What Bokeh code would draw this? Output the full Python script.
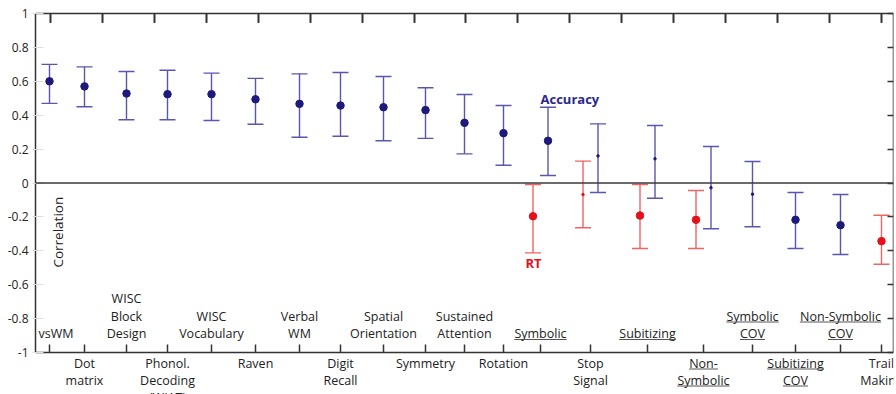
import numpy as np
from bokeh.plotting import figure
from bokeh.models import Range1d, LinearAxis, FixedTicker, Span, Label
from bokeh.embed import file_html
from bokeh.resources import INLINE
from bokeh.core.properties import value

# ---------------- data ----------------
categories = ["vsWM", "Dot\nmatrix", "WISC\nBlock\nDesign", "Phonol.\nDecoding\n(WIAT)",
              "WISC\nVocabulary", "Raven", "Verbal\nWM", "Digit\nRecall",
              "Spatial\nOrientation", "Symmetry", "Sustained\nAttention", "Rotation",
              "Symbolic", "Stop\nSignal", "Subitizing", "Non-\nSymbolic",
              "Symbolic\nCOV", "Subitizing\nCOV", "Non-Symbolic\nCOV", "Trail\nMaking"]
# category position along the x axis
x_pos = [14, 49, 91, 132, 176, 220, 264, 305, 348, 390,
         429, 468, 505, 555, 612, 668, 717, 760, 805, 846]
# numerical tasks (underlined labels)
numeric_task = [False] * 12 + [True, False, True, True, True, True, True, False]

nan = float("nan")
acc = [0.60, 0.57, 0.528, 0.524, 0.524, 0.494, 0.467, 0.457, 0.447, 0.43,
       0.355, 0.294, 0.249, 0.16, 0.143, -0.028, -0.066, -0.217, -0.249, nan]
acc_lo = [0.47, 0.45, 0.373, 0.373, 0.369, 0.347, 0.27, 0.276, 0.249, 0.263,
          0.172, 0.105, 0.044, -0.056, -0.09, -0.27, -0.258, -0.386, -0.422, nan]
acc_hi = [0.70, 0.685, 0.658, 0.665, 0.648, 0.617, 0.644, 0.652, 0.628, 0.562,
          0.522, 0.457, 0.447, 0.349, 0.339, 0.215, 0.127, -0.056, -0.068, nan]

rt = [nan] * 12 + [-0.196, -0.068, -0.192, -0.217, nan, nan, nan, -0.343]
rt_lo = [nan] * 12 + [-0.412, -0.264, -0.386, -0.386, nan, nan, nan, -0.479]
rt_hi = [nan] * 12 + [-0.009, 0.129, -0.009, -0.044, nan, nan, nan, -0.19]

y_ticks = [-1, -0.8, -0.6, -0.4, -0.2, 0, 0.2, 0.4, 0.6, 0.8, 1]
y_tick_labels = ["-1", "-0.8", "-0.6", "-0.4", "-0.2", "0", "0.2", "0.4", "0.6", "0.8", "1"]

# ---------------- styling ----------------
FONT = "Open Sans"
ACC_DOT = "#1d1a7c"
ACC_BAR = "#5a56b0"
RT_DOT = "#e5101c"
RT_BAR = "#f06464"
AXIS = "#333333"
TXT = "#222222"

W, H = 896, 394
BL, BR = 35, 3
TOP_PAD = 13                     # pixels between canvas top and the y = 1 line
XMAX = W - BL - BR
PPU = 169.5                      # pixels per correlation unit
y1 = 1 + TOP_PAD / PPU
y0 = y1 - H / PPU

p = figure(width=W, height=H, output_backend="svg", toolbar_location=None,
           x_range=Range1d(0, XMAX), y_range=Range1d(y0, y1),
           x_axis_location=None, y_axis_location=None,
           min_border_left=BL, min_border_right=BR, min_border_top=0, min_border_bottom=0,
           outline_line_color=None, background_fill_color="white", border_fill_color="white")
p.grid.grid_line_color = None

# left axis with tick labels
ya = LinearAxis(ticker=FixedTicker(ticks=y_ticks), bounds=(-1, 1),
                major_label_overrides={t: l for t, l in zip(y_ticks, y_tick_labels)},
                axis_line_color=AXIS, axis_line_width=1.5,
                major_tick_in=8, major_tick_out=3, major_tick_line_color="#dddddd",
                minor_tick_line_color=None,
                major_label_text_font=FONT, major_label_text_font_size="12px",
                major_label_text_color=TXT, major_label_standoff=4)
p.add_layout(ya, "left")

# right axis (ticks only)
ra = LinearAxis(fixed_location=XMAX, ticker=FixedTicker(ticks=y_ticks), bounds=(-1, 1),
                major_label_overrides={t: "" for t in y_ticks}, major_label_text_font_size="0px",
                axis_line_color=AXIS, axis_line_width=1.5,
                major_tick_in=6, major_tick_out=0, major_tick_line_color="#333333",
                major_tick_line_width=1.5, minor_tick_line_color=None)
p.add_layout(ra, "right")

# top axis line at y = 1, with evenly spaced inward ticks
top_ticks = [int(round(v)) for v in np.linspace(x_pos[0] + 1, x_pos[-1], 17)]
ta = LinearAxis(fixed_location=1, ticker=FixedTicker(ticks=top_ticks),
                major_label_overrides={t: "" for t in top_ticks}, major_label_text_font_size="0px",
                axis_line_color=AXIS, axis_line_width=1.5,
                major_tick_in=9, major_tick_out=0, major_tick_line_color="#333333",
                major_tick_line_width=1.6, minor_tick_line_color=None)
p.add_layout(ta, "above")
TICK_PX = 9.5
p.segment(x0=top_ticks, y0=[1] * len(top_ticks), x1=top_ticks,
          y1=[1 - TICK_PX / PPU] * len(top_ticks), line_color="#333333", line_width=1.6)

# bottom axis at -1 (ticks at categories)
ba = LinearAxis(fixed_location=-1, ticker=FixedTicker(ticks=x_pos),
                major_label_overrides={t: "" for t in x_pos}, major_label_text_font_size="0px",
                axis_line_color=AXIS, axis_line_width=1.5,
                major_tick_in=8, major_tick_out=0, major_tick_line_color="#333333",
                major_tick_line_width=1.5, minor_tick_line_color=None)
p.add_layout(ba, "below")

p.add_layout(Span(location=0, dimension="width", line_color="#3a3a3a", line_width=1.3))

# ---------------- error bars ----------------
DODGE = 7.5
x_arr = np.array(x_pos, dtype=float)
acc_a, alo, ahi = map(lambda a: np.array(a, dtype=float), (acc, acc_lo, acc_hi))
rt_a, rlo, rhi = map(lambda a: np.array(a, dtype=float), (rt, rt_lo, rt_hi))
both = ~np.isnan(acc_a) & ~np.isnan(rt_a)
xa = x_arr + np.where(both, DODGE, 0)
xr = x_arr - np.where(both, DODGE, 0)


def draw(xs, m, lo, hi, bar_col, dot_col):
    ok = ~np.isnan(m)
    xs, m, lo, hi = xs[ok], m[ok], lo[ok], hi[ok]
    p.segment(x0=xs, y0=lo, x1=xs, y1=hi, line_color=bar_col, line_width=1.4)
    p.scatter(x=np.concatenate([xs, xs]), y=np.concatenate([lo, hi]), marker="dash",
              size=16, line_color=bar_col, line_width=1.4)
    sig = (lo > 0) | (hi < 0)
    p.scatter(x=xs, y=m, size=np.where(sig, 7.5, 2.5), fill_color=dot_col, line_color=dot_col)


draw(xa, acc_a, alo, ahi, ACC_BAR, ACC_DOT)
draw(xr, rt_a, rlo, rhi, RT_BAR, RT_DOT)

# ---------------- category labels ----------------
CW = {" ": .26, "a": .556, "b": .613, "c": .48, "d": .613, "e": .561, "f": .336, "g": .546,
      "h": .614, "i": .258, "k": .53, "l": .258, "m": .932, "n": .614, "o": .604, "p": .613,
      "r": .41, "s": .476, "t": .353, "u": .614, "v": .5, "y": .5, "z": .468, "W": .93,
      "M": .9, "C": .631, "O": .778, "V": .579, "N": .763, "S": .549, "-": .322}
FS = 12.5


def text_w(s):
    return sum(CW.get(ch, .56) for ch in s) * FS


tx, ty, tt = [], [], []
ux0, ux1, uy = [], [], []
for i, (lab, x) in enumerate(zip(categories, x_pos)):
    lines = lab.split("\n")
    n = len(lines)
    wmax = max(text_w(ln) for ln in lines)
    xc = max(x, wmax / 2 + 3)          # keep first label clear of the left axis
    for j, ln in enumerate(lines):
        if i % 2 == 0:   # above the axis, inside the box
            off = -19 - (n - 1 - j) * 17.5
        else:            # below the axis
            off = 10.5 + j * 17
        yc = -1 - off / PPU
        tx.append(xc); ty.append(yc); tt.append(ln)
        if numeric_task[i]:
            w = text_w(ln)
            ux0.append(xc - w / 2); ux1.append(xc + w / 2); uy.append(yc - 6 / PPU)

p.text(x=tx, y=ty, text=tt, text_align="center", text_baseline="middle",
       text_font=value(FONT), text_font_size=f"{FS}px", text_color=TXT)
p.segment(x0=ux0, y0=uy, x1=ux1, y1=uy, line_color="#555555", line_width=1)

# ---------------- annotations ----------------
p.add_layout(Label(x=22.5, y=-0.29, text="Correlation", angle=90, angle_units="deg",
                   text_align="center", text_baseline="middle", text_font=FONT,
                   text_font_size="13.5px", text_color=TXT))
p.add_layout(Label(x=505, y=0.4985, text="Accuracy", text_align="left", text_baseline="middle",
                   text_font=FONT, text_font_size="13px", text_font_style="bold",
                   text_color="#2b288c"))
p.add_layout(Label(x=498, y=-0.473, text="RT", text_align="center", text_baseline="middle",
                   text_font=FONT, text_font_size="13px", text_font_style="bold",
                   text_color="#e5101c"))

open("out.html", "w").write(file_html(p, INLINE))
